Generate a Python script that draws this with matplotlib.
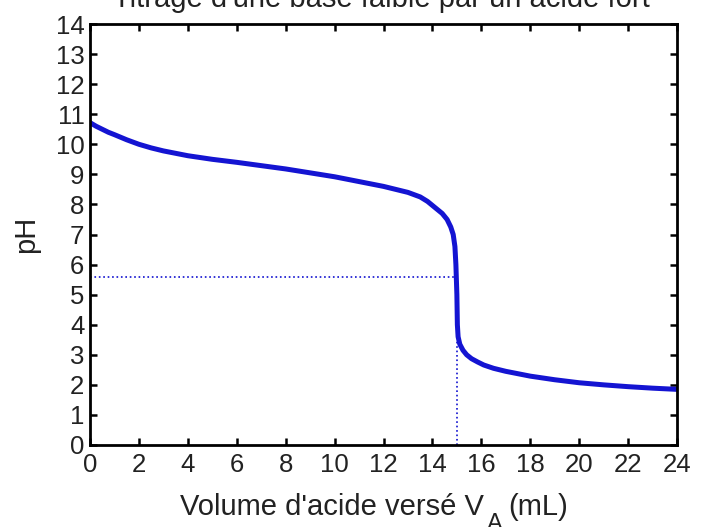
import numpy as np
import matplotlib
matplotlib.use('Agg')
import matplotlib.pyplot as plt

plt.rcParams['font.family'] = ['Liberation Sans', 'DejaVu Sans']

volume = [0, 0.25, 0.5, 0.75, 1, 1.5, 2, 2.5, 3, 4, 5, 6, 7, 8, 9, 10, 11,
          12, 12.5, 13, 13.5, 13.8, 14.1, 14.4, 14.6, 14.75, 14.85, 14.92,
          14.96, 15.0, 15.02, 15.05, 15.12, 15.25, 15.4, 15.6, 15.85, 16.1,
          16.5, 17, 18, 19, 20, 21, 22, 23, 24]
ph = [10.72, 10.6, 10.5, 10.4, 10.32, 10.15, 10.0, 9.88, 9.78, 9.62, 9.5,
      9.4, 9.29, 9.18, 9.05, 8.92, 8.76, 8.6, 8.5, 8.4, 8.25, 8.1, 7.9, 7.7,
      7.5, 7.25, 7.0, 6.6, 6.0, 5.0, 4.0, 3.6, 3.35, 3.15, 3.0, 2.87, 2.76,
      2.66, 2.55, 2.45, 2.29, 2.17, 2.07, 2.0, 1.94, 1.89, 1.85]

v_eq = 15.0
ph_eq = 5.6

xticks = list(range(0, 25, 2))
yticks = list(range(0, 15))

W, H = 705, 527
fig = plt.figure(figsize=(W / 100, H / 100), dpi=100)
ax = fig.add_axes([90 / W, (H - 445) / H, 587 / W, 421 / H])

ax.plot([0, v_eq], [ph_eq, ph_eq], ':', color='#1010d0', lw=1.2)
ax.plot([v_eq, v_eq], [0, ph_eq], ':', color='#1010d0', lw=1.2)
ax.plot(volume, ph, '-', color='#1414d2', lw=3.6, solid_capstyle='round',
        solid_joinstyle='round')

ax.set_xlim(0, 24)
ax.set_ylim(0, 14)
ax.set_xticks(xticks)
ax.set_yticks(yticks)
ax.tick_params(direction='in', length=5, width=1.8, top=True, right=True,
               labelsize=18.5, labelcolor='#222222')
ax.tick_params(axis='y', pad=4)
ax.tick_params(axis='x', pad=6)
for s in ax.spines.values():
    s.set_linewidth(2)

ax.set_ylabel('pH', fontsize=21, color='#222222')
ax.yaxis.set_label_coords(-0.085, 0.5)

# title sits partly above the figure edge, as in the original
fig.text(381 / W, 1 - 7 / H, "Titrage d'une base faible par un acide fort",
         ha='center', va='baseline', fontsize=21, color='#222222')

# x label with a lowered subscript, built from pieces
fig.canvas.draw()
r = fig.canvas.get_renderer()
t1 = fig.text(180 / W, 12 / H, "Volume d'acide versé V", fontsize=21,
              color='#222222', va='baseline')
x1 = t1.get_window_extent(r).x1
t2 = fig.text((x1 + 3) / W, -3 / H, 'A', fontsize=17, color='#222222',
              va='baseline')
x2 = t2.get_window_extent(r).x1
fig.text((x2 + 6) / W, 12 / H, '(mL)', fontsize=21, color='#222222',
         va='baseline')

fig.savefig('out.png', dpi=100)
